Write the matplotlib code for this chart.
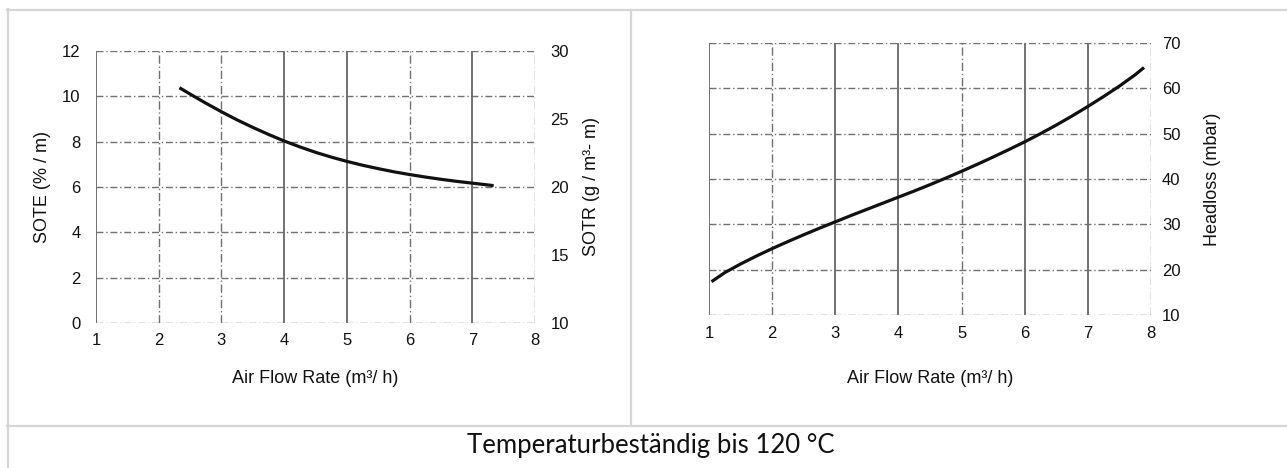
import matplotlib.pyplot as plt
from matplotlib.lines import Line2D

# Data
sote_flow = [2.33, 2.5, 2.75, 3.0, 3.25, 3.5, 3.75, 4.0, 4.25, 4.5, 4.75, 5.0,
             5.25, 5.5, 5.75, 6.0, 6.25, 6.5, 6.75, 7.0, 7.25, 7.34]
sote_pct = [10.38, 10.1, 9.7, 9.32, 8.96, 8.63, 8.32, 8.03, 7.77, 7.53, 7.32, 7.13,
            6.96, 6.81, 6.67, 6.55, 6.44, 6.34, 6.25, 6.17, 6.09, 6.06]

head_flow = [1.04, 1.25, 1.5, 1.75, 2.0, 2.25, 2.5, 2.75, 3.0, 3.25, 3.5, 3.75, 4.0,
             4.25, 4.5, 4.75, 5.0, 5.25, 5.5, 5.75, 6.0, 6.25, 6.5, 6.75, 7.0,
             7.25, 7.5, 7.75, 7.89]
head_mbar = [17.35, 19.35, 21.25, 23.0, 24.65, 26.2, 27.7, 29.15, 30.55, 31.95, 33.3,
             34.65, 36.0, 37.35, 38.75, 40.2, 41.7, 43.25, 44.85, 46.5, 48.2, 50.0,
             51.9, 53.9, 56.0, 58.2, 60.5, 63.0, 64.6]

x_ticks = [1, 2, 3, 4, 5, 6, 7, 8]
sote_ticks = [0, 2, 4, 6, 8, 10, 12]
sotr_ticks = [10, 15, 20, 25, 30]
head_ticks = [10, 20, 30, 40, 50, 60, 70]

caption = "Temperaturbeständig bis 120 °C"

W, H = 1287, 468
fig = plt.figure(figsize=(W / 100, H / 100), dpi=100)
plt.rcParams['font.family'] = ['Liberation Sans', 'DejaVu Sans']

TXT = '#111111'
SOLID = '#5a5a5a'
DASH = '#707070'
TICK_FS = 12
LABEL_FS = 13


def axes_px(left, top, right, bottom):
    return fig.add_axes([left / W, 1 - bottom / H, (right - left) / W, (bottom - top) / H])


def draw_grid(ax, xs, ys, vstyles):
    for x, st in zip(xs, vstyles):
        if st == '-':
            ax.axvline(x, color=SOLID, lw=1.2, zorder=1)
        else:
            ax.axvline(x, color=DASH, lw=1.0, ls=(0, (6, 2, 1, 2)), zorder=1)
    for y in ys:
        ax.axhline(y, color=DASH, lw=1.0, ls=(0, (5, 2, 1, 2)), zorder=1)
    for s in ax.spines.values():
        s.set_visible(False)
    ax.tick_params(length=0, labelsize=TICK_FS, labelcolor=TXT)


# ---- left chart: SOTE / SOTR ----
ax1 = axes_px(96, 51, 535, 323)
ax1.plot(sote_flow, sote_pct, color='#111111', lw=2.3, zorder=3, solid_capstyle='butt')
ax1.set_xlim(1, 8)
ax1.set_ylim(0, 12)
ax1.set_xticks(x_ticks)
ax1.set_yticks(sote_ticks)
draw_grid(ax1, x_ticks, sote_ticks, ['-', '--', '--', '-', '-', '--', '-', '--'])
ax1.tick_params(axis='x', pad=7)
ax1.tick_params(axis='y', pad=11)
ax1.set_xlabel('Air Flow Rate (m³/ h)', fontsize=LABEL_FS, color=TXT, labelpad=16)
ax1.set_ylabel('SOTE (% / m)', fontsize=LABEL_FS, color=TXT, labelpad=8)

ax1r = ax1.twinx()
ax1r.set_ylim(10, 30)
ax1r.set_yticks(sotr_ticks)
for s in ax1r.spines.values():
    s.set_visible(False)
ax1r.tick_params(length=0, labelsize=TICK_FS, labelcolor=TXT, pad=11)
ax1r.set_ylabel('SOTR (g / m³- m)', fontsize=LABEL_FS, color=TXT, labelpad=10)

# ---- right chart: Headloss ----
ax2 = axes_px(709, 43, 1151, 315)
ax2.plot(head_flow, head_mbar, color='#111111', lw=2.3, zorder=3, solid_capstyle='butt')
ax2.set_xlim(1, 8)
ax2.set_ylim(10, 70)
ax2.set_xticks(x_ticks)
ax2.set_yticks(head_ticks)
draw_grid(ax2, x_ticks, head_ticks, ['-', '--', '-', '-', '--', '-', '-', '--'])
ax2.yaxis.tick_right()
ax2.yaxis.set_label_position('right')
ax2.tick_params(axis='x', pad=8)
ax2.tick_params(axis='y', pad=8)
ax2.set_xlabel('Air Flow Rate (m³/ h)', fontsize=LABEL_FS, color=TXT, labelpad=21)
ax2.set_ylabel('Headloss (mbar)', fontsize=LABEL_FS, color=TXT, labelpad=17)

# ---- table borders ----
BORDER = '#d6d6d6'


def hline(y, x0, x1):
    fig.add_artist(Line2D([x0 / W, x1 / W], [1 - y / H, 1 - y / H],
                          transform=fig.transFigure, color=BORDER, lw=1.6))


def vline(x, y0, y1):
    fig.add_artist(Line2D([x / W, x / W], [1 - y0 / H, 1 - y1 / H],
                          transform=fig.transFigure, color=BORDER, lw=1.6))


hline(10, 7, W)
hline(426, 7, W)
vline(8, 9, H)
vline(631, 10, 426)

fig.text(651 / W, 1 - 446 / H, caption, ha='center', va='center',
         fontsize=18.5, color='#111111', family=['Lato', 'DejaVu Sans'])

fig.savefig('out.png', dpi=100, facecolor='white')
